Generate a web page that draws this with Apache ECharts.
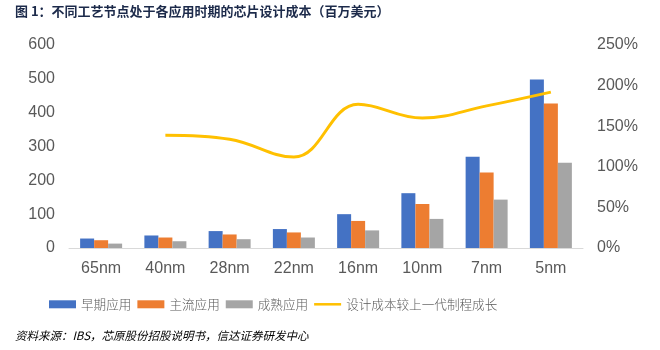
<!DOCTYPE html>
<html>
<head>
<meta charset="utf-8">
<script src="https://cdn.jsdelivr.net/npm/echarts@6/dist/echarts.min.js"></script>
<style>
html,body{margin:0;padding:0;background:#fff;}
#c{width:660px;height:350px;}
</style>
</head>
<body>
<div id="c"></div>
<script>
const categories = ['65nm','40nm','28nm','22nm','16nm','10nm','7nm','5nm'];
const early = [28, 37, 50, 56, 100, 162, 270, 498];
const mainstream = [23, 31, 40, 46, 80, 130, 223, 427];
const mature = [13, 20, 26, 31, 52, 86, 143, 252];
const growth = [null, 139, 134, 112, 177, 160, 175, 192];
const leftTicks = {min: 0, max: 600, interval: 100};
const rightTicks = {min: 0, max: 250, interval: 50};
const names = ['早期应用','主流应用','成熟应用','设计成本较上一代制程成长'];

const chart = echarts.init(document.getElementById('c'));
const axisFont = {fontFamily: 'Liberation Sans, Arial, sans-serif', fontSize: 16, color: '#595959'};
chart.setOption({
  animation: false,
  grid: {left: 69, right: 77, top: 45, bottom: 102},
  legend: {
    left: 44, top: 293,
    itemWidth: 27, itemHeight: 8, itemGap: 6,
    textStyle: {fontFamily: 'Noto Sans CJK SC', fontSize: 12.6, color: '#595959', fontWeight: 300},
    data: [
      {name: names[0], icon: 'rect'},
      {name: names[1], icon: 'rect'},
      {name: names[2], icon: 'rect'},
      {name: names[3], icon: 'path://M0,0L0,0M0,2.6L30,2.6L30,5.4L0,5.4ZM30,8L30,8'}
    ]
  },
  graphic: [
    {type: 'text', left: 15, top: 5, style: {text: '图 1：不同工艺节点处于各应用时期的芯片设计成本（百万美元）', fontFamily: 'Noto Sans CJK SC', fontSize: 13, fontWeight: 'bold', fill: '#1c2a4a'}},
    {type: 'text', left: 15, top: 330, style: {text: '资料来源：IBS，芯原股份招股说明书，信达证券研发中心', fontFamily: 'Noto Sans CJK SC', fontSize: 11.5, fontStyle: 'italic', fill: '#000'}}
  ],
  xAxis: {
    type: 'category', data: categories,
    axisLine: {lineStyle: {color: '#D9D9D9', width: 1}},
    axisTick: {show: false},
    axisLabel: Object.assign({margin: 13}, axisFont)
  },
  yAxis: [
    {type: 'value', min: leftTicks.min, max: leftTicks.max, interval: leftTicks.interval,
     splitLine: {show: false}, axisLine: {show: false}, axisTick: {show: false},
     axisLabel: Object.assign({margin: 14}, axisFont)},
    {type: 'value', min: rightTicks.min, max: rightTicks.max, interval: rightTicks.interval,
     splitLine: {show: false}, axisLine: {show: false}, axisTick: {show: false},
     axisLabel: Object.assign({margin: 14, formatter: '{value}%'}, axisFont)}
  ],
  series: [
    {name: names[0], type: 'bar', data: early, barWidth: 14, barGap: '0%', itemStyle: {color: '#4472C4'}},
    {name: names[1], type: 'bar', data: mainstream, barWidth: 14, barGap: '0%', itemStyle: {color: '#ED7D31'}},
    {name: names[2], type: 'bar', data: mature, barWidth: 14, barGap: '0%', itemStyle: {color: '#A5A5A5'}},
    {name: names[3], type: 'line', yAxisIndex: 1, data: growth, smooth: 0.4, symbol: 'none', showSymbol: false,
     lineStyle: {color: '#FFC000', width: 3}, itemStyle: {color: '#FFC000'}, z: 5}
  ]
});
</script>
</body>
</html>
